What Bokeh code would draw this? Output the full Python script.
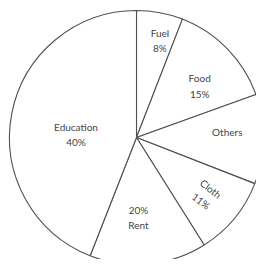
import numpy as np
from bokeh.plotting import figure
from bokeh.models import Range1d, ColumnDataSource
from bokeh.core.properties import value
from bokeh.embed import file_html
from bokeh.resources import INLINE

# ---- data ----
categories = ["Fuel", "Food", "Others", "Cloth", "Rent", "Education"]
# slice sizes as drawn (degrees of the circle, clockwise from 12 o'clock)
drawn_share_deg = [21.2, 49.0, 41.1, 36.5, 53.6, 158.6]
label_texts = ["Fuel\n8%", "Food\n15%", "Others", "Cloth\n11%", "20%\nRent", "Education\n40%"]

# ---- layout / style ----
R = 127.0
CX, CY = 136.0, 137.0           # pie centre in page pixels (inside the plot)
W, H = 256, 259
label_r = [0.786, 0.643, 0.716, 0.71, 0.63, 0.477]
label_shift = [3, 5, -4, 0, 4, -8]
label_rot = [0, 0, 0, -38, 0, 0]

share = np.array(drawn_share_deg, dtype=float)
share = share / share.sum() * 360.0
end_cw = np.cumsum(share)
start_cw = end_cw - share

wedges = ColumnDataSource(dict(
    cat=categories,
    start=np.radians(90.0 - end_cw),
    end=np.radians(90.0 - start_cw),
))

mid = np.radians(start_cw + share / 2 + np.array(label_shift))
lr = np.array(label_r) * R
labels = ColumnDataSource(dict(
    x=lr * np.sin(mid),
    y=lr * np.cos(mid),
    text=label_texts,
    angle=np.radians(label_rot),
))

p = figure(width=W, height=H, output_backend="svg", toolbar_location=None,
           x_range=Range1d(0 - CX, W - CX), y_range=Range1d(CY - H, CY),
           min_border=0, outline_line_color=None, background_fill_color="white",
           border_fill_color="white")
p.axis.visible = False
p.grid.visible = False

p.wedge(x=0, y=0, radius=R, start_angle="start", end_angle="end", source=wedges,
        fill_color="white", line_color="#505050", line_width=1.1)

p.text(x="x", y="y", text="text", angle="angle", source=labels,
       text_font=value("Lato"), text_font_size="10px", text_color="#444444",
       text_align="center", text_baseline="middle", text_line_height=1.3)

open("out.html", "w").write(file_html(p, INLINE))
